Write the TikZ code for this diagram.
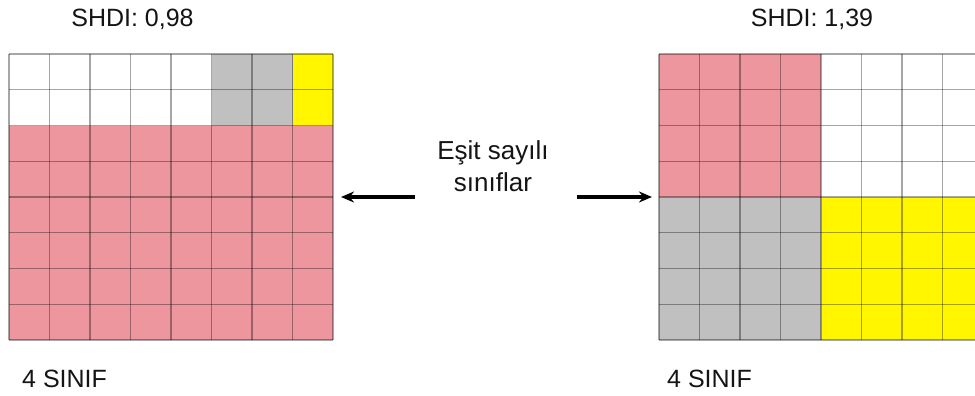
\documentclass[tikz,border=0pt]{standalone}
\usepackage{fontspec}
\setmainfont{Liberation Sans}
\usetikzlibrary{arrows.meta}
\definecolor{pinkc}{RGB}{238,150,158}
\definecolor{grayc}{RGB}{192,192,192}
\definecolor{yelc}{RGB}{255,246,0}
\definecolor{txt}{RGB}{20,20,20}
\tikzset{
  lbl/.style={inner sep=0pt, text=txt, font=\fontsize{25}{30}\selectfont},
  gridln/.style={draw=black, draw opacity=0.35, line width=1.2pt},
  arr/.style={line width=3.2pt, draw=black, -{Stealth[length=13pt,width=11pt]}},
}
\begin{document}
\begin{tikzpicture}[x=1pt,y=-1pt]
\useasboundingbox[fill=white] (0,0) rectangle (975,396);
% left grid: x0=9, cell w=40.5 ; y0=54, cell h=35.75
\def\cw{40.5}\def\ch{35.75}
\begin{scope}
  \fill[pinkc] (9,54+2*\ch) rectangle (9+8*\cw,54+8*\ch);
  \fill[grayc] (9+5*\cw,54) rectangle (9+7*\cw,54+2*\ch);
  \fill[yelc] (9+7*\cw,54) rectangle (9+8*\cw,54+2*\ch);
  \foreach \i in {0,...,8} {\draw[gridln] (9+\i*\cw,54) -- (9+\i*\cw,54+8*\ch);}
  \foreach \j in {0,...,8} {\draw[gridln] (9,54+\j*\ch) -- (9+8*\cw,54+\j*\ch);}
\end{scope}
% right grid: x0=659
\begin{scope}
  \clip (640,40) rectangle (975,360);
  \fill[pinkc] (659,54) rectangle (659+4*\cw,54+4*\ch);
  \fill[grayc] (659,54+4*\ch) rectangle (659+4*\cw,54+8*\ch);
  \fill[yelc] (659+4*\cw,54+4*\ch) rectangle (659+8*\cw,54+8*\ch);
  \foreach \i in {0,...,8} {\draw[gridln] (659+\i*\cw,54) -- (659+\i*\cw,54+8*\ch);}
  \foreach \j in {0,...,8} {\draw[gridln] (659,54+\j*\ch) -- (659+8*\cw,54+\j*\ch);}
\end{scope}
% labels
\node[lbl, anchor=base] (shdiL) at (132.5,27) {SHDI: 0,98};
\node[lbl, anchor=base] (shdiR) at (812,27) {SHDI: 1,39};
\node[lbl, anchor=base west] (nL) at (22,387) {4 SINIF};
\node[lbl, anchor=base west] (nR) at (667,387) {4 SINIF};
\node[lbl, anchor=base, align=center, font=\fontsize{26}{32}\selectfont] (mid) at (493,191) {Eşit sayılı\\sınıflar};
% arrows
\coordinate (la1) at (415,197);
\coordinate (la2) at (341,197);
\coordinate (ra1) at (577,197);
\coordinate (ra2) at (652,197);
\draw[arr] (la1) -- (la2);
\draw[arr] (ra1) -- (ra2);
\end{tikzpicture}
\end{document}
